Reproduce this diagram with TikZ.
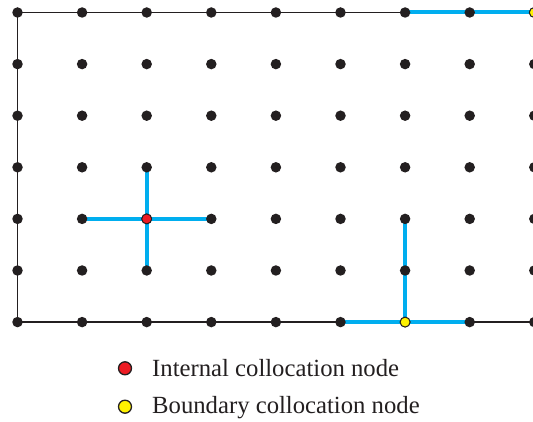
\documentclass[tikz,border=0pt]{standalone}
\usepackage{fontspec}
\setmainfont{Liberation Serif}
\definecolor{myblue}{RGB}{0,174,239}
\definecolor{mydot}{RGB}{35,31,32}
\definecolor{myred}{RGB}{237,28,36}
\definecolor{myyellow}{RGB}{255,242,0}
\begin{document}
\begin{tikzpicture}[x=1pt,y=1pt,
  dot/.style={circle,fill=mydot,inner sep=0pt,minimum size=10.5pt},
  rednode/.style={circle,fill=myred,draw=mydot,line width=1pt,inner sep=0pt,minimum size=10pt},
  yellownode/.style={circle,fill=myyellow,draw=mydot,line width=1pt,inner sep=0pt,minimum size=10pt},
  legendmark/.style={minimum size=13pt,line width=1.3pt},
  edge/.style={draw=mydot,line width=1.5pt},
  blueline/.style={draw=myblue,line width=4pt},
  legendtext/.style={anchor=base west,font=\fontsize{24.7}{28}\selectfont,text=mydot,inner sep=0pt}]
\useasboundingbox (0,0) rectangle (533,422);
\clip (0,0) rectangle (533,422);
% grid coordinates
\foreach \i in {0,...,8}{
  \foreach \j in {0,...,6}{
    \coordinate (c-\i-\j) at ({17.5+64.6*\i},{422-12.5-51.6*\j});
  }
}
% boundary lines
\path[edge] (c-0-0) -- (c-8-0);
\path[edge] (c-0-0) -- (c-0-6);
\path[edge] (c-0-6) -- (c-8-6);
% blue stencils
\path[blueline] (c-1-4) -- (c-3-4);
\path[blueline] (c-2-3) -- (c-2-5);
\path[blueline] (c-5-6) -- (c-7-6);
\path[blueline] (c-6-6) -- (c-6-4);
\path[blueline] (c-6-0) -- (c-8-0);
% dots
\foreach \i in {0,...,8}{
  \foreach \j in {0,...,6}{
    \node[dot] (n-\i-\j) at (c-\i-\j) {};
  }
}
\node[rednode] (r1) at (c-2-4) {};
\node[yellownode] (y1) at (c-6-6) {};
\node[yellownode] (y2) at (c-8-0) {};
% legend
\node[rednode,legendmark] (lr) at (125,53.7) {};
\node[legendtext] (lrt) at (152,45.5) {Internal collocation node};
\node[yellownode,legendmark] (ly) at (125,15.3) {};
\node[legendtext] (lyt) at (152,8) {Boundary collocation node};
\end{tikzpicture}
\end{document}
